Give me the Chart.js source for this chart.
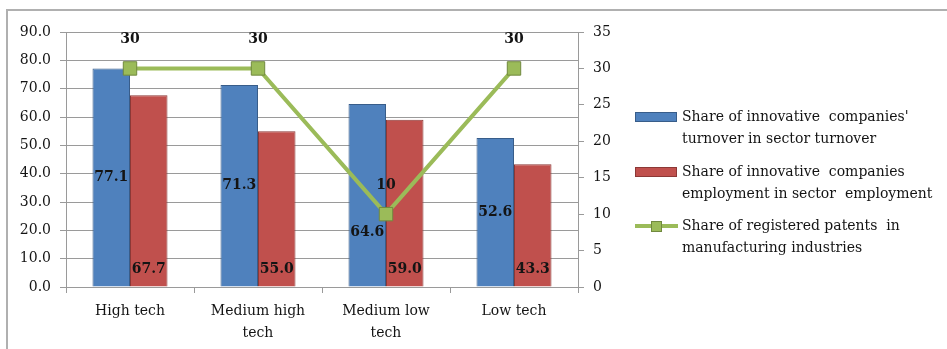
<!DOCTYPE html>
<html>
<head>
<meta charset="utf-8">
<script src="https://cdn.jsdelivr.net/npm/chart.js@4"></script>
<style>
  html, body { margin: 0; padding: 0; background: #fff; overflow: hidden; }
  #wrap { position: relative; width: 947px; height: 349px; overflow: hidden; }
  #frame { position: absolute; left: 6px; top: 9px; width: 1200px; height: 600px; border-top: 2px solid #b0b0b0; border-left: 2px solid #b0b0b0; }
  #grafico { position: absolute; left: 0; top: 0; }
</style>
</head>
<body>
<div id="wrap">
  <div id="frame"></div>
  <canvas id="grafico" width="947" height="349"></canvas>
</div>
<script>
// Categorias e séries
const categorias = [['High tech'], ['Medium high', 'tech'], ['Medium low', 'tech'], ['Low tech']];
const partFaturamento = [77.1, 71.3, 64.6, 52.6];
const partEmprego = [67.7, 55.0, 59.0, 43.3];
const partPatentes = [30, 30, 10, 30];

const nomesSeries = [
    ["Share of innovative  companies'", 'turnover in sector turnover'],
    ['Share of innovative  companies', 'employment in sector  employment'],
    ['Share of registered patents  in', 'manufacturing industries']
];

// Cores
const azul = '#4f81bd', azulBorda = '#385d8a';
const vermelho = '#c0504d', vermelhoBorda = '#8c3836';
const verde = '#9bbb59', verdeBorda = '#71893f';
const corGrade = '#9a9a9a';
const corTexto = '#141414';
const fonte = 'DejaVu Serif';

// Rótulos de valor sobre as barras e a linha
const rotulos = {
    id: 'rotulos',
    afterDatasetsDraw(chart) {
        const ctx = chart.ctx;
        ctx.save();
        ctx.font = 'bold 14px "' + fonte + '"';
        ctx.fillStyle = corTexto;
        ctx.textAlign = 'center';
        ctx.textBaseline = 'middle';
        chart.data.datasets.forEach((ds, i) => {
            const meta = chart.getDatasetMeta(i);
            meta.data.forEach((el, j) => {
                const v = ds.data[j];
                if (i === 0) {
                    let y = (el.y + el.base) / 2;
                    if (j === 2) y += 37; // afasta do marcador da linha
                    ctx.fillText(v.toFixed(1), el.x, y);
                } else if (i === 1) {
                    ctx.fillText(v.toFixed(1), el.x, el.base - 17);
                } else {
                    ctx.fillText(String(v), el.x, el.y - 29);
                }
            });
        });
        ctx.restore();
    }
};

// Legenda desenhada à direita, com texto em duas linhas
const legenda = {
    id: 'legenda',
    afterDraw(chart) {
        const ctx = chart.ctx;
        const x0 = 635, xt = 682;
        const topos = [117, 172, 226];
        ctx.save();
        ctx.font = '14px "' + fonte + '"';
        ctx.textBaseline = 'middle';
        ctx.textAlign = 'left';
        topos.forEach((y, i) => {
            if (i < 2) {
                ctx.fillStyle = i === 0 ? azul : vermelho;
                ctx.strokeStyle = i === 0 ? azulBorda : vermelhoBorda;
                ctx.lineWidth = 1;
                ctx.fillRect(x0, y - 5, 42, 10);
                ctx.strokeRect(x0 + 0.5, y - 4.5, 41, 9);
            } else {
                ctx.strokeStyle = verde;
                ctx.lineWidth = 4;
                ctx.beginPath();
                ctx.moveTo(x0, y);
                ctx.lineTo(x0 + 43, y);
                ctx.stroke();
                ctx.fillStyle = verde;
                ctx.strokeStyle = verdeBorda;
                ctx.lineWidth = 1;
                ctx.fillRect(x0 + 16, y - 5, 11, 11);
                ctx.strokeRect(x0 + 16.5, y - 4.5, 10, 10);
            }
            ctx.fillStyle = corTexto;
            nomesSeries[i].forEach((linha, k) => ctx.fillText(linha, xt, y + k * 22));
        });
        ctx.restore();
    }
};

const ctxGrafico = document.getElementById('grafico');
new Chart(ctxGrafico, {
    type: 'bar',
    data: {
        labels: categorias,
        datasets: [{
            label: nomesSeries[0].join(' '),
            data: partFaturamento,
            backgroundColor: azul,
            borderColor: azulBorda,
            borderWidth: 1,
            yAxisID: 'y',
            order: 1
        }, {
            label: nomesSeries[1].join(' '),
            data: partEmprego,
            backgroundColor: vermelho,
            borderColor: vermelhoBorda,
            borderWidth: 1,
            yAxisID: 'y',
            order: 1
        }, {
            type: 'line',
            label: nomesSeries[2].join(' '),
            data: partPatentes,
            borderColor: verde,
            borderWidth: 4,
            pointStyle: 'rect',
            pointRadius: 9.5,
            pointBackgroundColor: verde,
            pointBorderColor: verdeBorda,
            pointBorderWidth: 1,
            tension: 0,
            yAxisID: 'y1',
            order: 0
        }]
    },
    options: {
        responsive: false,
        animation: false,
        layout: { padding: { top: 32, left: 0, right: 0, bottom: 0 } },
        datasets: {
            bar: { categoryPercentage: 0.586, barPercentage: 1 }
        },
        scales: {
            x: {
                grid: { display: true, drawOnChartArea: false, drawTicks: true, tickLength: 6, color: corGrade, offset: true },
                border: { color: corGrade },
                ticks: { color: corTexto, font: { family: fonte, size: 14, lineHeight: 1.55 }, padding: 8, maxRotation: 0 },
                afterFit: (s) => { s.height = 62; }
            },
            y: {
                position: 'left',
                min: 0,
                max: 90,
                ticks: { stepSize: 10, color: corTexto, font: { family: fonte, size: 14 }, padding: 9, callback: (v) => v.toFixed(1) },
                grid: { color: corGrade, tickLength: 6 },
                border: { color: corGrade },
                afterFit: (s) => { s.width = 66; }
            },
            y1: {
                position: 'right',
                min: 0,
                max: 35,
                ticks: { stepSize: 5, color: corTexto, font: { family: fonte, size: 14 }, padding: 9 },
                grid: { drawOnChartArea: false, color: corGrade, tickLength: 6 },
                border: { color: corGrade },
                afterFit: (s) => { s.width = 947 - 578; }
            }
        },
        plugins: {
            legend: { display: false },
            tooltip: { enabled: false }
        }
    },
    plugins: [rotulos, legenda]
});
</script>
</body>
</html>
